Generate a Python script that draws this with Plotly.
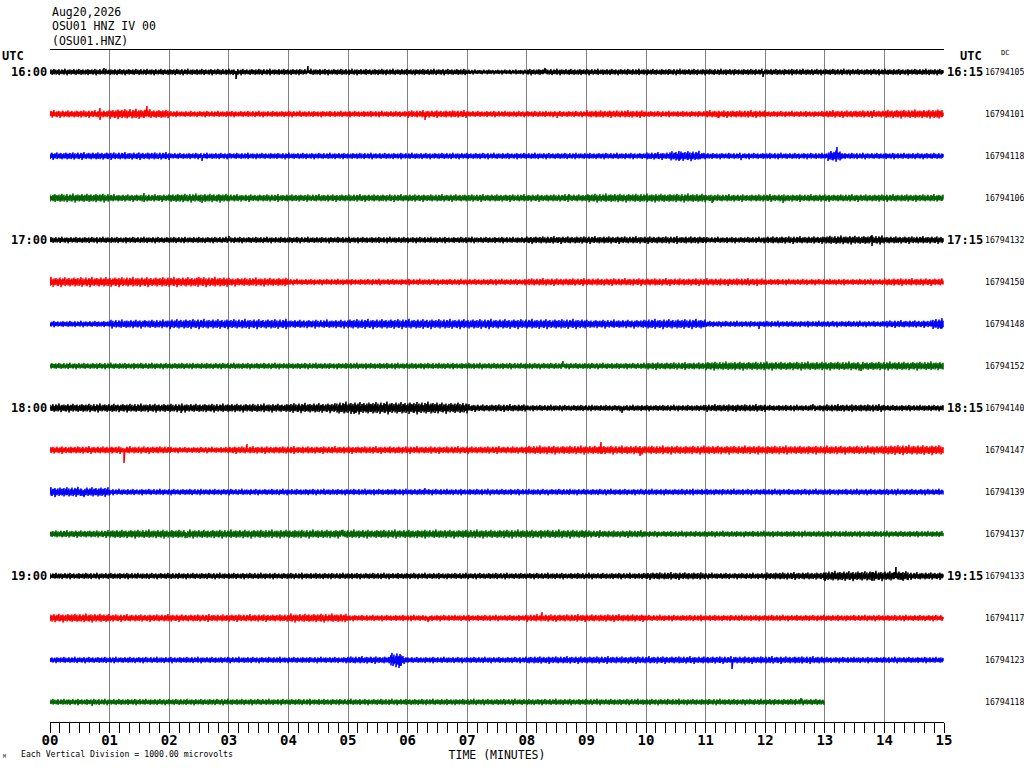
import numpy as np
import plotly.graph_objects as go

# ---------------- data ----------------
TITLE_LINES = ["Aug20,2026", "OSU01 HNZ IV 00", "(OSU01.HNZ)"]
ROW_COLORS = ["#000000", "#ff0000", "#0000ff", "#006400"] * 4
LEFT_TIMES = ["16:00", "17:00", "18:00", "19:00"]      # rows 0,4,8,12
RIGHT_TIMES = ["16:15", "17:15", "18:15", "19:15"]
HOUR_ROWS = [0, 4, 8, 12]
DC_VALUES = ["16794105", "16794101", "16794118", "16794106",
             "16794132", "16794150", "16794148", "16794152",
             "16794140", "16794147", "16794139", "16794137",
             "16794133", "16794117", "16794123", "16794118"]
ROW_END_MIN = [15] * 15 + [13.0]
X_TICK_LABELS = ["%02d" % m for m in range(16)]

# half-amplitude of each trace, per minute (pixels on the record)
ENV = [
    [2.5, 2.5, 2.5, 2.5, 2.5, 2.5, 2.5, 2.0, 2.5, 2.5, 2.5, 2.5, 2.5, 2.5, 2.5],
    [3.0, 3.5, 2.5, 2.5, 2.5, 2.5, 3.0, 2.5, 2.5, 3.0, 2.5, 3.0, 2.5, 3.0, 3.5],
    [3.0, 3.0, 2.5, 2.5, 2.5, 2.5, 2.5, 2.5, 2.5, 2.5, 3.0, 2.5, 2.5, 2.5, 2.5],
    [3.5, 3.0, 3.5, 3.0, 3.0, 3.0, 3.0, 3.0, 3.0, 3.5, 3.5, 3.0, 3.0, 3.0, 3.0],
    [2.5, 2.5, 2.5, 2.5, 2.5, 2.5, 2.5, 2.5, 3.0, 3.0, 3.0, 2.5, 3.0, 3.5, 3.0],
    [4.0, 4.0, 4.0, 3.5, 2.5, 2.5, 2.5, 2.5, 3.0, 3.0, 3.0, 3.0, 2.5, 2.5, 3.0],
    [2.5, 3.5, 4.0, 4.0, 3.5, 4.0, 4.0, 4.0, 4.0, 3.5, 4.0, 2.5, 2.5, 2.5, 3.0],
    [2.5, 2.5, 2.5, 2.5, 2.5, 2.5, 2.5, 2.5, 2.5, 2.5, 3.0, 3.5, 3.5, 3.5, 3.5],
    [3.5, 3.5, 3.5, 3.5, 4.0, 4.5, 4.5, 3.0, 2.5, 2.5, 2.5, 3.0, 2.5, 3.0, 2.5],
    [3.0, 3.0, 2.5, 3.0, 3.0, 3.0, 3.0, 3.0, 3.5, 3.5, 3.5, 3.5, 3.5, 3.5, 4.0],
    [4.0, 2.5, 2.5, 2.5, 2.5, 2.5, 2.5, 2.5, 2.5, 2.5, 2.5, 2.5, 2.5, 2.5, 2.5],
    [3.0, 3.5, 3.5, 3.5, 3.5, 3.5, 3.5, 3.5, 3.5, 3.0, 2.5, 2.5, 2.5, 2.5, 2.5],
    [2.5, 2.5, 2.5, 2.5, 2.5, 2.5, 2.5, 2.5, 2.5, 2.5, 3.0, 2.5, 3.0, 4.0, 3.0],
    [3.5, 3.0, 3.0, 3.0, 3.5, 2.5, 2.5, 2.5, 3.0, 3.0, 2.5, 2.5, 2.5, 2.5, 2.5],
    [2.5, 2.5, 2.5, 2.5, 2.5, 3.0, 2.5, 2.5, 3.0, 3.0, 3.0, 3.0, 3.0, 2.5, 2.5],
    [2.5, 2.5, 2.5, 2.5, 2.5, 2.5, 2.5, 2.5, 2.5, 2.5, 2.5, 2.5, 2.5],
]

# short bursts: (row, start minute, end minute, half-amplitude px)
EVENTS = [
    (1, 1.00, 1.70, 4.0), (2, 10.40, 10.90, 4.0), (2, 13.05, 13.30, 4.5),
    (6, 14.80, 15.00, 4.5), (12, 13.00, 14.40, 4.0), (14, 5.72, 5.92, 6.0),
    (1, 14.80, 15.00, 4.0), (8, 4.80, 6.50, 5.0),
]

# single spikes: (row, minute, up px, down px)
SPIKES = [
    (0, 0.90, 4, 1), (0, 3.12, 1, 7), (0, 4.33, 6, 1), (0, 8.30, 4, 1), (0, 11.96, 1, 5),
    (1, 0.84, 6, 6), (1, 1.34, 5, 2), (1, 1.63, 8, 2), (1, 6.30, 1, 6), (1, 8.50, 1, 4),
    (1, 11.20, 1, 4),
    (2, 2.55, 1, 5), (2, 10.55, 5, 5), (2, 13.05, 1, 5), (2, 13.20, 9, 1), (2, 11.60, 1, 4),
    (3, 1.57, 5, 4), (3, 2.55, 1, 5), (3, 8.70, 4, 1), (3, 11.10, 1, 5), (3, 12.30, 1, 5),
    (4, 13.80, 5, 6), (4, 3.00, 4, 1),
    (5, 2.50, 5, 2),
    (6, 11.90, 1, 5), (6, 14.95, 2, 5),
    (7, 8.60, 5, 1), (7, 13.60, 1, 5),
    (8, 5.10, 2, 6), (8, 2.20, 1, 5), (8, 9.60, 1, 5), (8, 12.80, 4, 1),
    (9, 1.25, 0, 13), (9, 3.30, 6, 2), (9, 9.25, 8, 4), (9, 9.90, 4, 6),
    (10, 6.30, 4, 1), (10, 0.55, 1, 4),
    (11, 4.90, 4, 1), (11, 2.30, 1, 4),
    (12, 14.20, 9, 2), (12, 13.00, 3, 5), (12, 13.80, 4, 5), (12, 14.30, 3, 4),
    (13, 8.25, 6, 1), (13, 6.35, 1, 4),
    (14, 5.85, 4, 8), (14, 11.45, 1, 9),
    (15, 0.70, 1, 4), (15, 12.60, 4, 1),
]

# fixed sample texture patterns used to draw the wiggle inside the envelope
TEXTURE_UP = [0.6, 1.0, 0.4, 0.8, 1.2, 0.5, 0.9, 0.3, 0.7, 1.1, 0.6, 0.4, 1.0, 0.8,
              0.5, 1.3, 0.7, 0.4, 0.9, 0.6, 1.0, 0.5, 0.8, 0.3, 1.1, 0.7, 0.5, 0.9,
              0.6, 1.2, 0.4, 0.8, 0.7, 1.0, 0.5, 0.6, 0.9, 0.4, 1.1, 0.7, 0.8]
TEXTURE_DN = [0.8, 0.5, 1.1, 0.6, 0.9, 0.4, 1.0, 0.7, 0.5, 1.2, 0.6, 0.8, 0.4, 0.9,
              1.0, 0.5, 0.7, 1.3, 0.6, 0.8, 0.4, 1.0, 0.7, 0.5, 0.9, 0.6, 1.1, 0.4, 0.8]

# ---------------- layout geometry ----------------
W, H = 1024, 768
ML, MR, MT, MB = 50, 80, 50, 46
PW, PH = W - ML - MR, H - MT - MB
NROWS = 16
PX_PER_UNIT = 42.0
Y_TOP = -(22.0 / PX_PER_UNIT)
Y_BOT = Y_TOP + PH / PX_PER_UNIT
NCOL = PW  # one column per pixel

fig = go.Figure()

for r in range(NROWS):
    end = ROW_END_MIN[r]
    ncol = int(round(NCOL * end / 15.0))
    xs = np.arange(ncol) * (15.0 / NCOL)
    env = np.array([ENV[r][min(int(x), len(ENV[r]) - 1)] for x in xs])
    for (er, s, e, a) in EVENTS:
        if er == r:
            m = (xs >= s) & (xs <= e)
            env[m] = np.maximum(env[m], a)
    up = np.array([env[i] * TEXTURE_UP[(i + 11 * r) % len(TEXTURE_UP)] for i in range(ncol)])
    dn = np.array([env[i] * TEXTURE_DN[(i + 7 * r) % len(TEXTURE_DN)] for i in range(ncol)])
    for (sr, sm, su, sd) in SPIKES:
        if sr == r:
            k = int(round(sm / 15.0 * NCOL))
            if 0 <= k < ncol:
                up[k] = su
                dn[k] = sd
    X = np.repeat(xs, 2)
    Y = np.empty(2 * ncol)
    Y[0::2] = r - up / PX_PER_UNIT
    Y[1::2] = r + dn / PX_PER_UNIT
    fig.add_trace(go.Scatter(x=X, y=Y, mode="lines",
                             line=dict(color=ROW_COLORS[r], width=1.5),
                             hoverinfo="skip", showlegend=False))

MONO = "DejaVu Sans Mono"
ann = []
for i, t in enumerate(TITLE_LINES):
    ann.append(dict(text=t, xref="paper", yref="paper", x=0, y=(H - MB - (12 + 14.5 * i)) / PH,
                    xanchor="left", yanchor="middle", showarrow=False,
                    font=dict(family=MONO, size=11.5, color="black")))
# UTC headers
ann.append(dict(text="<b>UTC</b>", xref="paper", yref="paper", x=(0 - ML) / PW, y=(H - MB - 56) / PH,
                xanchor="left", yanchor="middle", showarrow=False,
                font=dict(family=MONO, size=12, color="black")))
ann.append(dict(text="<b>UTC</b>", xref="paper", yref="paper", x=(958 - ML) / PW, y=(H - MB - 56) / PH,
                xanchor="left", yanchor="middle", showarrow=False,
                font=dict(family=MONO, size=12, color="black")))
ann.append(dict(text="DC", xref="paper", yref="paper", x=(999 - ML) / PW, y=(H - MB - 53) / PH,
                xanchor="left", yanchor="middle", showarrow=False,
                font=dict(family=MONO, size=7, color="black")))
for lt, rt, row in zip(LEFT_TIMES, RIGHT_TIMES, HOUR_ROWS):
    ann.append(dict(text="<b>" + lt + "</b>", xref="paper", yref="y", x=(49 - ML) / PW, y=row,
                    xanchor="right", yanchor="middle", showarrow=False,
                    font=dict(family=MONO, size=12, color="black")))
    ann.append(dict(text="<b>" + rt + "</b>", xref="paper", yref="y", x=(945 - ML) / PW, y=row,
                    xanchor="left", yanchor="middle", showarrow=False,
                    font=dict(family=MONO, size=12, color="black")))
for row, v in enumerate(DC_VALUES):
    ann.append(dict(text=v, xref="paper", yref="y", x=(983 - ML) / PW, y=row,
                    xanchor="left", yanchor="middle", showarrow=False,
                    font=dict(family=MONO, size=8.2, color="black")))
ann.append(dict(text="Each Vertical Division = 1000.00 microvolts", xref="paper", yref="paper",
                x=(19 - ML) / PW, y=(H - MB - 754) / PH, xanchor="left", yanchor="middle",
                showarrow=False, font=dict(family=MONO, size=8.2, color="black")))
ann.append(dict(text="M", xref="paper", yref="paper",
                x=(1 - ML) / PW, y=(H - MB - 756) / PH, xanchor="left", yanchor="middle",
                showarrow=False, font=dict(family=MONO, size=5, color="black")))

fig.update_layout(
    width=W, height=H, autosize=False,
    margin=dict(l=ML, r=MR, t=MT, b=MB, pad=0),
    paper_bgcolor="white", plot_bgcolor="white",
    annotations=ann,
    xaxis=dict(range=[0, 15], tickmode="array", tickvals=list(range(16)),
               ticktext=["<b>%s</b>" % t for t in X_TICK_LABELS],
               ticks="outside", ticklen=10, tickcolor="black", tickwidth=1,
               tickfont=dict(family=MONO, size=14, color="black"),
               ticklabelstandoff=-5,
               showgrid=True, gridcolor="#808080", gridwidth=1.3,
               zeroline=False, showline=True, linecolor="black", linewidth=1, mirror=True,
               minor=dict(dtick=1.0 / 6.0, ticks="outside", ticklen=10, tickcolor="black",
                          tickwidth=1, showgrid=False),
               title=dict(text="TIME (MINUTES)", standoff=0,
                          font=dict(family=MONO, size=11.5, color="black")),
               fixedrange=True),
    yaxis=dict(range=[Y_BOT, Y_TOP], showgrid=False, zeroline=False, showticklabels=False,
               ticks="", showline=False, fixedrange=True),
)

fig.write_html("out.html", config={"displayModeBar": False},
               post_script="document.body.style.margin='0';document.body.style.padding='0';")
